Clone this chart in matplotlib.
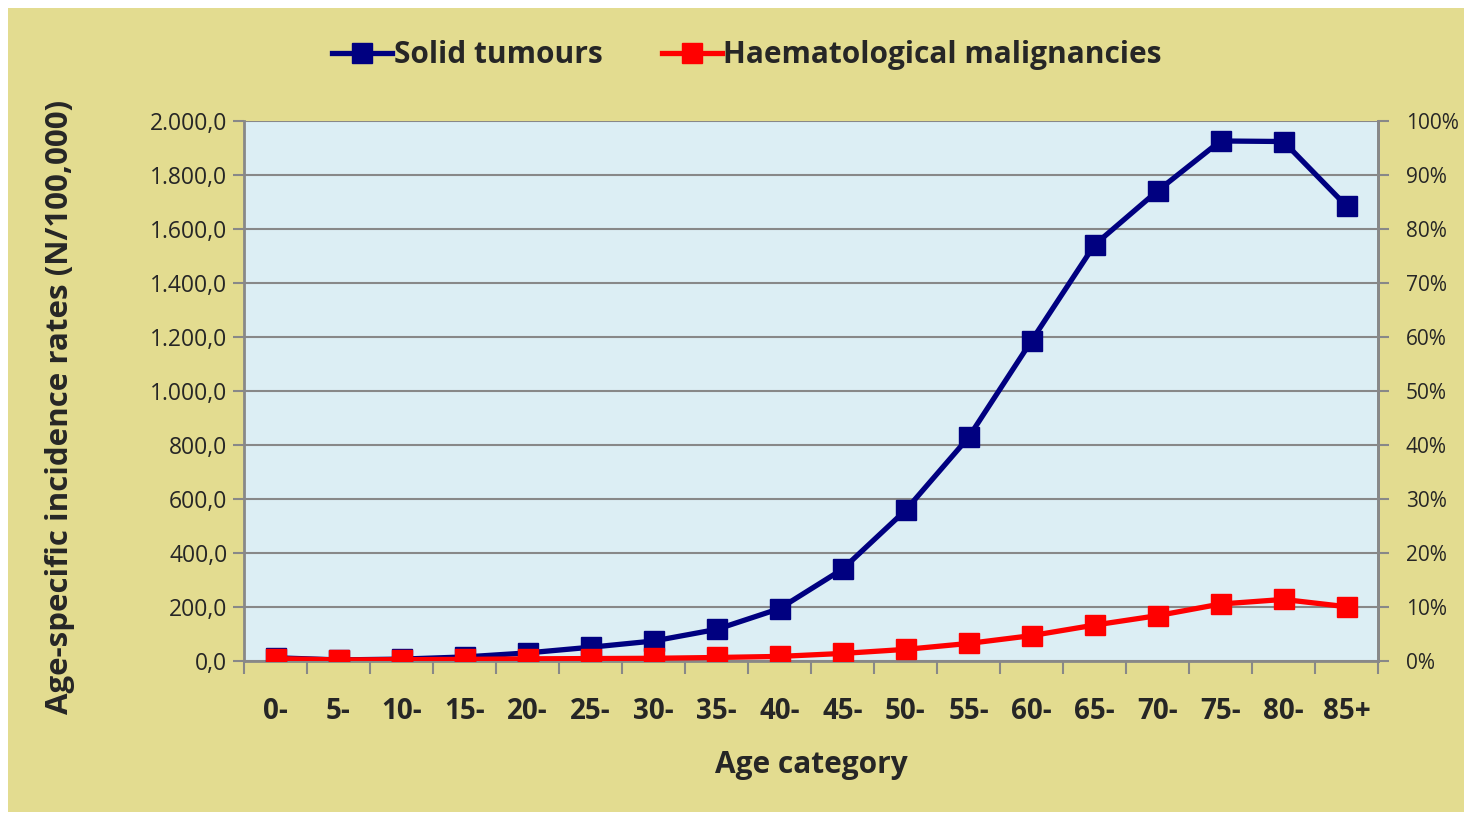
import matplotlib
matplotlib.use("Agg")
import matplotlib.pyplot as plt
from matplotlib.ticker import FuncFormatter, FixedLocator
from matplotlib.patches import Rectangle

categories = ["0-", "5-", "10-", "15-", "20-", "25-", "30-", "35-", "40-", "45-",
              "50-", "55-", "60-", "65-", "70-", "75-", "80-", "85+"]
solid = [12, 4, 7, 15, 30, 51, 74, 117, 194, 340, 558, 828, 1186, 1541, 1741, 1926, 1924, 1685]
haem = [9, 4, 5, 6, 8, 9, 10, 13, 17, 28, 43, 65, 94, 133, 168, 211, 228, 201]
series_names = ["Solid tumours", "Haematological malignancies"]
right_ticks = [0, 10, 20, 30, 40, 50, 60, 70, 80, 90, 100]

bg = "#E3DC90"
plotbg = "#DCEEF4"
grid = "#888888"
txt = "#262626"
FONT = "Open Sans"

fig = plt.figure(figsize=(14.66, 8.14), dpi=100)
fig.patch.set_facecolor("white")
fig.patches.append(Rectangle((8/1466, 2/814), 1456/1466, 804/814, transform=fig.transFigure,
                             facecolor=bg, edgecolor="none", zorder=-10))

ax = fig.add_axes([244/1466, 1-661/814, (1378-244)/1466, (661-121)/814])
ax.set_facecolor(plotbg)
x = list(range(len(categories)))
l1, = ax.plot(x, solid, color="#000080", lw=3.8, marker="s", ms=14, label=series_names[0],
              solid_joinstyle="round", zorder=3)
l2, = ax.plot(x, haem, color="#FF0000", lw=3.8, marker="s", ms=14, label=series_names[1],
              solid_joinstyle="round", zorder=4)

ax.set_xlim(-0.5, len(categories) - 0.5)
ax.set_ylim(0, 2000)
ax.set_yticks(range(0, 2001, 200))

def fmt(v, pos):
    s = f"{v:,.1f}"
    return s.replace(",", "X").replace(".", ",").replace("X", ".")
ax.yaxis.set_major_formatter(FuncFormatter(fmt))
ax.grid(axis="y", color=grid, lw=1.5)
ax.set_axisbelow(True)

ax.xaxis.set_major_locator(FixedLocator([i - 0.5 for i in range(len(categories) + 1)]))
ax.xaxis.set_minor_locator(FixedLocator(x))
ax.set_xticklabels([""] * (len(categories) + 1))
ax.set_xticklabels(categories, minor=True)
ax.tick_params(axis="x", which="major", length=9, width=1.5, color=grid, direction="out")
ax.tick_params(axis="x", which="minor", length=0, pad=26, labelsize=20, labelcolor=txt)
for t in ax.get_xticklabels(minor=True):
    t.set_fontweight("bold")
    t.set_family(FONT)
ax.tick_params(axis="y", length=8, width=1.5, color=grid, labelsize=16.5, labelcolor=txt, pad=4)
for t in ax.get_yticklabels():
    t.set_family(FONT)

for s in ["left", "bottom", "right"]:
    ax.spines[s].set_color(grid)
    ax.spines[s].set_linewidth(2)
ax.spines["top"].set_visible(False)

ax2 = ax.twinx()
ax2.set_ylim(0, 100)
ax2.set_yticks(right_ticks)
ax2.set_yticklabels([f"{v}%" for v in right_ticks])
ax2.tick_params(axis="y", length=8, width=1.5, color=grid, labelsize=15, labelcolor=txt, pad=12)
for t in ax2.get_yticklabels():
    t.set_family(FONT)
for s in ["left", "top", "bottom"]:
    ax2.spines[s].set_visible(False)
ax2.spines["right"].set_color(grid)
ax2.spines["right"].set_linewidth(2)

ax.set_xlabel("Age category", fontsize=21.5, fontweight="bold", color=txt, family=FONT)
ax.xaxis.set_label_coords(0.5, (661-750)/540, transform=ax.transAxes)
ax.set_ylabel("Age-specific incidence rates (N/100,000)", fontsize=22.5, fontweight="bold",
              color=txt, family=FONT, va="center")
ax.yaxis.set_label_coords((60-244)/1134, (661-407)/540, transform=ax.transAxes)

fig.legend(handles=[l1, l2], loc="center", bbox_to_anchor=(747/1466, 1-55/814), ncol=2,
           frameon=False, prop={"family": FONT, "weight": "bold", "size": 21.5},
           handlelength=2.0, handletextpad=0.05, columnspacing=2.0, labelcolor=txt)

fig.savefig("out.png", dpi=100, facecolor=fig.get_facecolor())
